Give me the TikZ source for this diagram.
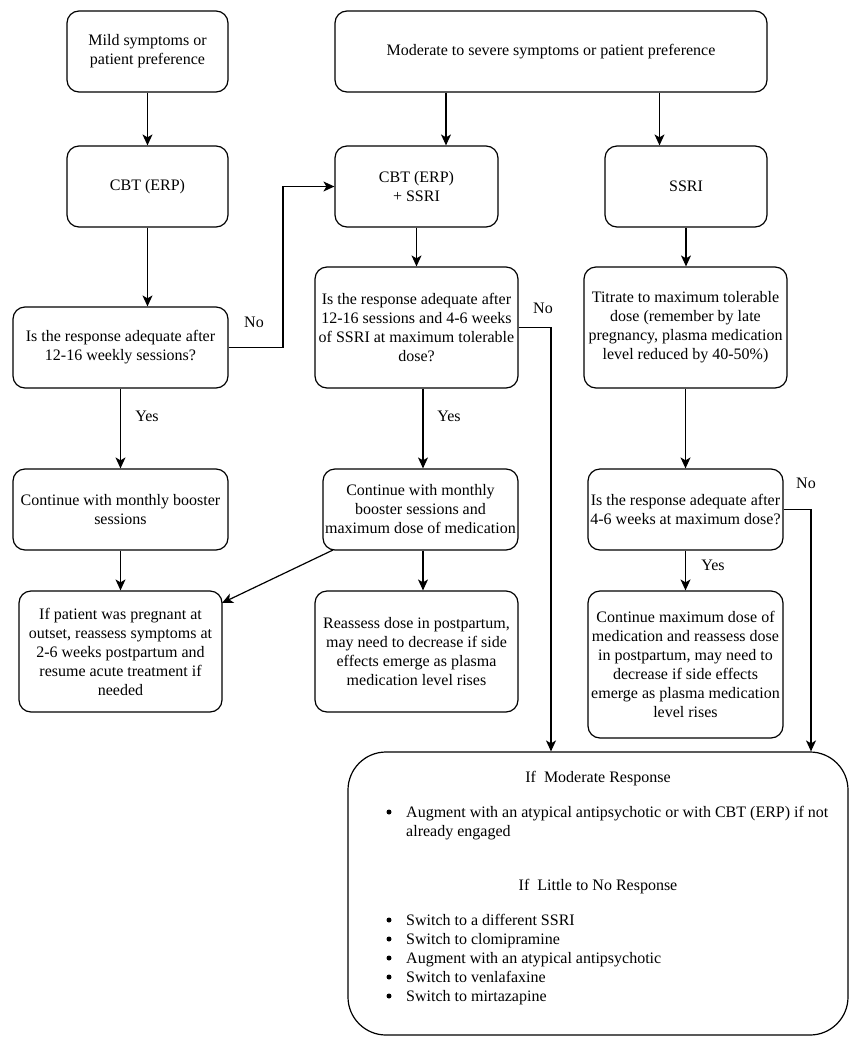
\documentclass[tikz,border=0pt]{standalone}
\usepackage{fontspec}
\setmainfont{Liberation Serif}
\usetikzlibrary{arrows.meta}
\begin{document}
\begin{tikzpicture}[x=1pt,y=-1pt,
  box/.style={draw, line width=1.2pt, rounded corners=12pt, align=center, inner sep=0pt,
    font=\fontsize{16}{19}\selectfont},
  arr/.style={draw, line width=1.2pt, -{Stealth[length=11pt,width=10pt,inset=3pt]}},
  lbl/.style={font=\fontsize{16}{19}\selectfont, inner sep=0pt},
  txt/.style={font=\fontsize{16}{19}\selectfont, inner sep=0pt, anchor=base west},
  hd/.style={font=\fontsize{16}{19}\selectfont, inner sep=0pt, anchor=base},
  bul/.style={circle, fill=black, inner sep=0pt, minimum size=5pt}]
\useasboundingbox[fill=white] (0,0) rectangle (862,1050);

% boxes
\node[box, minimum width=161pt, minimum height=81pt] (A) at (147.5,51.5) {Mild symptoms or\\patient preference};
\node[box, minimum width=432pt, minimum height=81pt] (B) at (551,51.5) {Moderate to severe symptoms or patient preference};
\node[box, minimum width=161pt, minimum height=81pt] (C) at (147.5,186.5) {CBT (ERP)};
\node[box, minimum width=163pt, minimum height=81pt] (D) at (416.5,186.5) {CBT (ERP)\\+ SSRI};
\node[box, minimum width=162pt, minimum height=81pt] (E) at (686,186.5) {SSRI};
\node[box, minimum width=215pt, minimum height=81pt] (G) at (120.5,347.5) {Is the response adequate after\\12-16 weekly sessions?};
\node[box, minimum width=203pt, minimum height=121pt] (H) at (416.5,327.5) {Is the response adequate after\\12-16 sessions and 4-6 weeks\\of SSRI at maximum tolerable\\dose?};
\node[box, minimum width=203pt, minimum height=121pt] (F) at (685.5,327.5) {Titrate to maximum tolerable\\dose (remember by late\\pregnancy, plasma medication\\level reduced by 40-50\%)};
\node[box, minimum width=215pt, minimum height=81pt] (I) at (120.5,509.5) {Continue with monthly booster\\sessions};
\node[box, minimum width=195pt, minimum height=81pt] (J) at (420.5,509.5) {Continue with monthly\\booster sessions and\\maximum dose of medication};
\node[box, minimum width=195pt, minimum height=81pt] (M) at (685.5,509.5) {Is the response adequate after\\4-6 weeks at maximum dose?};
\node[box, minimum width=203pt, minimum height=121pt] (K) at (120.5,651.5) {If patient was pregnant at\\outset, reassess symptoms at\\2-6 weeks postpartum and\\resume acute treatment if\\needed};
\node[box, minimum width=203pt, minimum height=121pt] (L) at (416.5,651.5) {Reassess dose in postpartum,\\may need to decrease if side\\effects emerge as plasma\\medication level rises};
\node[box, minimum width=195pt, minimum height=147pt] (N) at (685.5,664.5) {Continue maximum dose of\\medication and reassess dose\\in postpartum, may need to\\decrease if side effects\\emerge as plasma medication\\level rises};
\node[box, rounded corners=38pt, minimum width=500pt, minimum height=283pt] (O) at (598,893.5) {};

% contents of bottom box
\node[hd] (h1) at (598,782) {If\ \ Moderate Response};
\node[bul] (b1) at (389,812) {};
\node[txt] (t1) at (406,817) {Augment with an atypical antipsychotic or with CBT (ERP) if not};
\node[txt] (t1b) at (406,836) {already engaged};
\node[hd] (h2) at (598,890) {If\ \ Little to No Response};
\node[bul] (b2) at (389,920) {};
\node[txt] (t2) at (406,925) {Switch to a different SSRI};
\node[bul] (b3) at (389,939) {};
\node[txt] (t3) at (406,944) {Switch to clomipramine};
\node[bul] (b4) at (389,958) {};
\node[txt] (t4) at (406,963) {Augment with an atypical antipsychotic};
\node[bul] (b5) at (389,977) {};
\node[txt] (t5) at (406,982) {Switch to venlafaxine};
\node[bul] (b6) at (389,996) {};
\node[txt] (t6) at (406,1001) {Switch to mirtazapine};

% helper coordinates
\coordinate (bx) at (446,0);
\coordinate (ex) at (659.5,0);
\coordinate (hx) at (423,0);
\coordinate (g1) at (283,0);
\coordinate (h2x) at (551,0);
\coordinate (m2x) at (811,0);
\coordinate (jk) at (333,550);
\coordinate (kj) at (222,603);

% connectors
\draw[arr] (A) -- (C);
\draw[arr] (B.south -| bx) -- (D.north -| bx);
\draw[arr] (B.south -| ex) -- (E.north -| ex);
\draw[arr] (C.south) -- (C.south |- G.north);
\draw[arr] (D) -- (H);
\draw[arr] (E.south) -- (E.south |- F.north);
\draw[arr] (G) -- (I);
\draw[arr] (I) -- (K);
\draw[arr] (H.south -| hx) -- (J.north -| hx);
\draw[arr] (J.south -| hx) -- (L.north -| hx);
\draw[arr] (jk) -- (kj);
\draw[arr] (F) -- (M);
\draw[arr] (M) -- (N);
\draw[arr] (G.east) -- (G.east -| g1) |- (D.west);
\draw[arr] (H.east) -| (h2x |- O.north);
\draw[arr] (M.east) -| (m2x |- O.north);

% labels
\node[lbl] (no1) at (254,322) {No};
\node[lbl] (no2) at (543,308) {No};
\node[lbl] (no3) at (806,483) {No};
\node[lbl] (yes1) at (147,416) {Yes};
\node[lbl] (yes2) at (449,416) {Yes};
\node[lbl] (yes3) at (713,565) {Yes};
\end{tikzpicture}
\end{document}
